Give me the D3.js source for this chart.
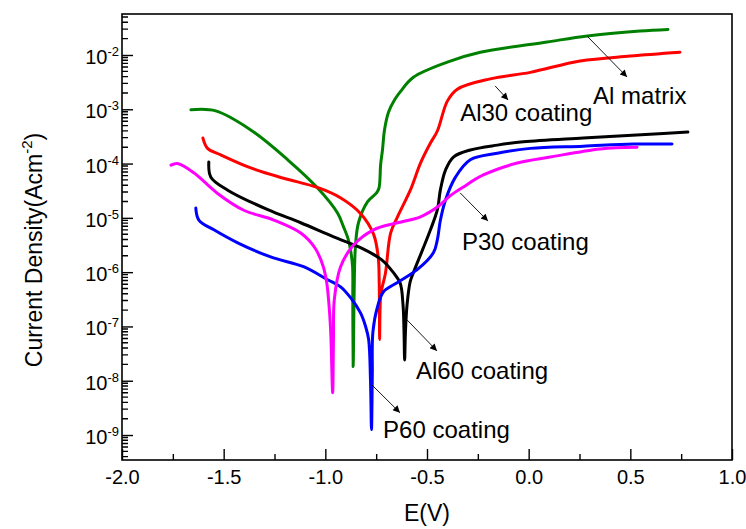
<!DOCTYPE html>
<html>
<head>
<meta charset="utf-8">
<script src="https://cdn.jsdelivr.net/npm/d3@7"></script>
<style>
body { margin: 0; background: #fff; }
text { font-family: Arial, "Liberation Sans", sans-serif; fill: #000; }
</style>
</head>
<body>
<svg id="chart" width="746" height="529"></svg>
<script>
// [E (V), log10 current density (A/cm2)]
var alMatrix = [[-1.661,-3.01],[-1.539,-3.03],[-1.367,-3.38],[-1.185,-3.93],[-1.038,-4.45],[-0.940,-4.91],
  [-0.910,-5.17],[-0.887,-5.40],[-0.876,-5.59],[-0.866,-5.90],[-0.865,-6.51],[-0.863,-7.74],[-0.861,-7.20],
  [-0.858,-6.30],[-0.852,-5.53],[-0.837,-5.09],[-0.792,-4.70],[-0.748,-4.54],[-0.736,-4.45],[-0.728,-4.02],
  [-0.719,-3.75],[-0.709,-3.38],[-0.689,-3.05],[-0.660,-2.83],[-0.630,-2.67],[-0.567,-2.41],[-0.400,-2.13],
  [-0.238,-1.95],[0.091,-1.76],[0.288,-1.65],[0.548,-1.56],[0.685,-1.53]];

var al30 = [[-1.602,-3.53],[-1.579,-3.72],[-1.514,-3.84],[-1.367,-4.08],[-1.205,-4.27],[-1.039,-4.44],
  [-0.926,-4.63],[-0.827,-4.92],[-0.763,-5.30],[-0.740,-5.72],[-0.735,-6.20],[-0.733,-7.24],[-0.731,-6.70],
  [-0.727,-6.40],[-0.704,-6.01],[-0.679,-5.28],[-0.645,-4.98],[-0.581,-4.48],[-0.532,-3.99],[-0.483,-3.62],
  [-0.449,-3.40],[-0.400,-2.85],[-0.351,-2.63],[-0.189,-2.44],[0.008,-2.32],[0.253,-2.11],[0.499,-2.02],
  [0.744,-1.95]];

var al60 = [[-1.573,-3.97],[-1.563,-4.25],[-1.480,-4.49],[-1.283,-4.85],[-1.121,-5.09],[-0.959,-5.35],
  [-0.827,-5.55],[-0.724,-5.77],[-0.665,-6.01],[-0.632,-6.20],[-0.618,-6.60],[-0.613,-7.10],[-0.610,-7.62],
  [-0.606,-7.10],[-0.598,-6.60],[-0.583,-6.18],[-0.567,-6.01],[-0.522,-5.59],[-0.483,-5.22],[-0.449,-4.85],
  [-0.434,-4.48],[-0.409,-4.12],[-0.370,-3.88],[-0.287,-3.75],[-0.154,-3.66],[-0.026,-3.60],[0.268,-3.53],
  [0.597,-3.46],[0.783,-3.42]];

var p60 = [[-1.637,-4.82],[-1.622,-5.04],[-1.548,-5.22],[-1.431,-5.46],[-1.269,-5.72],[-1.107,-5.90],
  [-0.989,-6.14],[-0.925,-6.27],[-0.876,-6.47],[-0.827,-6.75],[-0.802,-7.00],[-0.787,-7.24],[-0.778,-7.98],
  [-0.773,-8.90],[-0.769,-7.90],[-0.766,-7.10],[-0.743,-6.63],[-0.714,-6.36],[-0.645,-6.19],[-0.547,-5.95],
  [-0.468,-5.64],[-0.449,-5.40],[-0.434,-5.04],[-0.409,-4.67],[-0.360,-4.25],[-0.287,-3.93],[-0.154,-3.81],
  [0.008,-3.72],[0.268,-3.68],[0.514,-3.64],[0.705,-3.64]];

var p30 = [[-1.759,-4.03],[-1.727,-4.00],[-1.647,-4.17],[-1.530,-4.55],[-1.401,-4.86],[-1.254,-5.04],
  [-1.121,-5.28],[-1.050,-5.56],[-1.010,-5.90],[-0.993,-6.20],[-0.984,-6.51],[-0.974,-7.06],[-0.964,-8.22],
  [-0.960,-7.24],[-0.956,-6.51],[-0.925,-5.90],[-0.861,-5.50],[-0.763,-5.22],[-0.645,-5.09],[-0.532,-4.98],
  [-0.449,-4.80],[-0.385,-4.59],[-0.321,-4.43],[-0.223,-4.21],[-0.056,-3.99],[0.106,-3.88],[0.352,-3.73],
  [0.533,-3.70]];

var seriesNames = ["Al matrix", "Al30 coating", "Al60 coating", "P60 coating", "P30 coating"];
var seriesColors = ["#008000", "#ff0000", "#000000", "#0000ff", "#ff00ff"];
var seriesData = [alMatrix, al30, al60, p60, p30];

var xTicks = [-2.0, -1.5, -1.0, -0.5, 0.0, 0.5, 1.0];
var yExponents = [-9, -8, -7, -6, -5, -4, -3, -2];
var minorSteps = [2, 3, 4, 5, 6, 7, 8, 9];

// annotation: label anchor and arrow (tail -> head) in data units
var labelPos = [[0.317,-2.90],[-0.337,-3.22],[-0.554,-7.97],[-0.716,-9.05],[-0.328,-5.59]];
var arrowTail = [[0.287,-1.65],[-0.165,-2.57],[-0.598,-6.88],[-0.770,-8.08],[-0.337,-4.54]];
var arrowHead = [[0.484,-2.405],[-0.101,-2.83],[-0.451,-7.45],[-0.633,-8.59],[-0.200,-5.06]];

var svg = d3.select("#chart"),
  plotLeft = 122, plotRight = 732, plotTop = 14, plotBottom = 460;

var x = d3.scaleLinear().domain([-2, 1]).range([plotLeft, plotRight]);
var y = d3.scaleLog().domain([Math.pow(10, -9.46), Math.pow(10, -1.245)]).range([plotBottom, plotTop]);

var defs = svg.append("defs");
defs.append("marker")
  .attr("id", "arrow")
  .attr("viewBox", "0 0 10 10")
  .attr("refX", 10).attr("refY", 5)
  .attr("markerUnits", "userSpaceOnUse")
  .attr("markerWidth", 10).attr("markerHeight", 7)
  .attr("orient", "auto")
  .append("path").attr("d", "M0,0L10,5L0,10z").attr("fill", "#000");

// x axis: minor + major ticks pointing inward
svg.append("g")
  .attr("transform", "translate(0," + plotBottom + ")")
  .call(d3.axisBottom(x).tickValues(d3.range(-1.75, 1, 0.5)).tickSize(-6).tickFormat(""))
  .call(function (g) { g.select(".domain").remove(); });

var xAxis = svg.append("g")
  .attr("transform", "translate(0," + plotBottom + ")")
  .call(d3.axisBottom(x).tickValues(xTicks).tickSize(-11).tickPadding(10)
    .tickFormat(function (d) { return d.toFixed(1); }));
xAxis.select(".domain").remove();
xAxis.attr("font-size", 20).attr("font-family", "Arial, 'Liberation Sans', sans-serif");

// y axis: decades through d3.axisLeft
var yAxis = svg.append("g")
  .attr("transform", "translate(" + plotLeft + ",0)")
  .call(d3.axisLeft(y).tickValues(yExponents.map(function (e) { return Math.pow(10, e); }))
    .tickSize(-11).tickFormat(""));
yAxis.select(".domain").remove();
svg.selectAll(".tick line").attr("stroke-width", 1.4).attr("stroke", "#000");

// y minor ticks: 2..9 in every decade, drawn as one path
var yDom = y.domain();
var minorPath = d3.path();
[-10].concat(yExponents).forEach(function (e) {
  minorSteps.forEach(function (k) {
    var v = k * Math.pow(10, e);
    if (v >= yDom[0] && v <= yDom[1]) {
      minorPath.moveTo(plotLeft, y(v));
      minorPath.lineTo(plotLeft + 6, y(v));
    }
  });
});
svg.append("path")
  .attr("d", minorPath.toString())
  .attr("fill", "none")
  .attr("stroke", "#000")
  .attr("stroke-width", 1.4);

var yLab = svg.append("g").selectAll("text")
  .data(yExponents)
  .enter().append("text")
  .attr("x", plotLeft - 3)
  .attr("y", function (e) { return y(Math.pow(10, e)) + 9; })
  .attr("text-anchor", "end");
yLab.append("tspan").attr("font-size", 20).text("10");
yLab.append("tspan").attr("font-size", 13).attr("dy", -8).text(function (e) { return e; });

// frame
svg.append("rect")
  .attr("x", plotLeft).attr("y", plotTop)
  .attr("width", plotRight - plotLeft).attr("height", plotBottom - plotTop)
  .attr("fill", "none").attr("stroke", "#000").attr("stroke-width", 1.6);

// curves
var line = d3.line()
  .x(function (d) { return x(d[0]); })
  .y(function (d) { return y(Math.pow(10, d[1])); })
  .curve(d3.curveCatmullRom.alpha(0.5));

svg.append("g").selectAll("path")
  .data(seriesData)
  .enter().append("path")
  .attr("d", line)
  .attr("fill", "none")
  .attr("stroke", function (d, i) { return seriesColors[i]; })
  .attr("stroke-width", 3)
  .attr("stroke-linejoin", "round")
  .attr("stroke-linecap", "round");

// annotations
svg.append("g").selectAll("line")
  .data(seriesNames)
  .enter().append("line")
  .attr("x1", function (d, i) { return x(arrowTail[i][0]); })
  .attr("y1", function (d, i) { return y(Math.pow(10, arrowTail[i][1])); })
  .attr("x2", function (d, i) { return x(arrowHead[i][0]); })
  .attr("y2", function (d, i) { return y(Math.pow(10, arrowHead[i][1])); })
  .attr("stroke", "#000")
  .attr("stroke-width", 0.9)
  .attr("marker-end", "url(#arrow)");

svg.append("g").selectAll("text")
  .data(seriesNames)
  .enter().append("text")
  .attr("x", function (d, i) { return x(labelPos[i][0]); })
  .attr("y", function (d, i) { return y(Math.pow(10, labelPos[i][1])); })
  .attr("font-size", 24)
  .text(function (d) { return d; });

// axis titles
svg.append("text")
  .attr("x", (plotLeft + plotRight) / 2)
  .attr("y", 521)
  .attr("text-anchor", "middle")
  .attr("font-size", 23)
  .text("E(V)");

var yt = svg.append("text")
  .attr("transform", "translate(42,250) rotate(-90)")
  .attr("text-anchor", "middle")
  .attr("font-size", 23);
yt.append("tspan").text("Current Density(Acm");
yt.append("tspan").attr("font-size", 15).attr("dy", -10).text("-2");
yt.append("tspan").attr("dy", 10).text(")");
</script>
</body>
</html>
